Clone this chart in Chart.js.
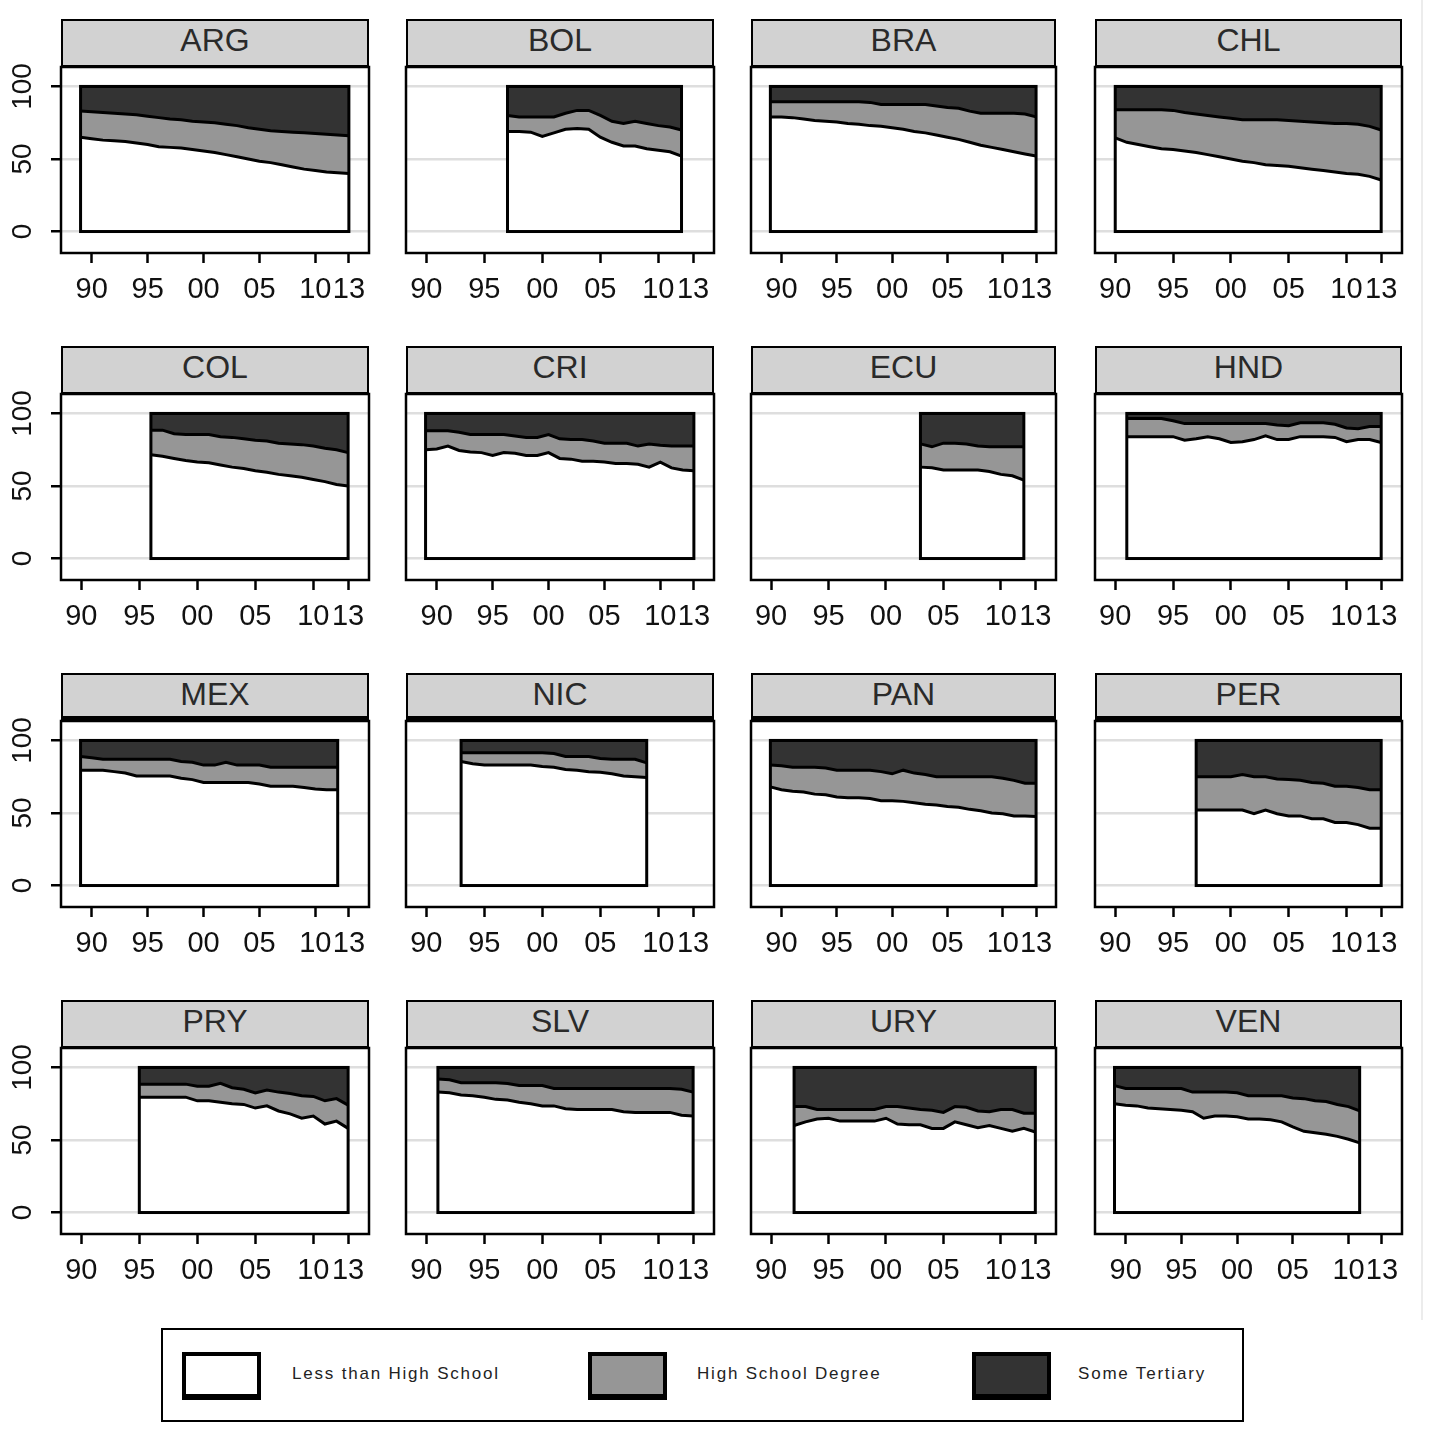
<!DOCTYPE html>
<html>
<head>
<meta charset="utf-8">
<script src="https://cdn.jsdelivr.net/npm/chart.js@4.4.1/dist/chart.umd.min.js"></script>
<style>
  body { margin: 0; background: #fff; width: 1429px; height: 1445px; position: relative; overflow: hidden;
         font-family: 'Liberation Sans', Arial, sans-serif; }
  .strip { position: absolute; box-sizing: border-box; background: #d2d2d2; border: 2px solid #000;
           text-align: center; font-size: 32px; line-height: 39px; color: #2a2a2a; }
  .strip.thick { border-bottom-width: 5px; }
  canvas.panel { position: absolute; }
  #legend { position: absolute; left: 161px; top: 1328px; width: 1083px; height: 94px;
            box-sizing: border-box; border: 2px solid #000; }
  .key { position: absolute; top: 22px; width: 79px; height: 48px; box-sizing: border-box;
         border: 4px solid #000; border-bottom-width: 6px; }
  .keylabel { position: absolute; top: 34px; font-size: 17px; letter-spacing: 1.8px; line-height: 20px; color: #222; white-space: nowrap; }
  #edge { position: absolute; left: 1421px; top: 0; width: 2px; height: 1320px; background: #ececec; }
</style>
</head>
<body>
<div id="edge"></div>
<div id="legend"></div>
<script>
// shares of adult population by education level, percent
const countries = ['ARG', 'BOL', 'BRA', 'CHL', 'COL', 'CRI', 'ECU', 'HND',
                   'MEX', 'NIC', 'PAN', 'PER', 'PRY', 'SLV', 'URY', 'VEN'];

const firstYear = {
    ARG: 1989, BOL: 1997, BRA: 1989, CHL: 1990, COL: 1996, CRI: 1989, ECU: 2003, HND: 1991,
    MEX: 1989, NIC: 1993, PAN: 1989, PER: 1997, PRY: 1995, SLV: 1991, URY: 1992, VEN: 1989
};

const lessHS = {
    ARG: [65,64,63,62.5,62,61,60,58.5,58,57.5,56.5,55.5,54.5,53,51.5,50,48.5,47.5,46,44.5,43,42,41,40.5,40],
    BOL: [69,69,68.5,65.5,68,70.5,71,70.5,65,61.5,59,59,57,56,55,52],
    BRA: [79,79,78.5,77.5,76.5,76,75.5,74.5,74,73,72.5,71.5,70.5,69,68,66.5,65,63.5,61.5,59.5,58,56.5,55,53.5,52],
    CHL: [64.5,61.5,60,58.5,57,56.5,55.5,54.5,53,51.5,50,48.5,47.5,46,45.5,45,44,43,42,41,40,39.5,38,35.5],
    COL: [71.5,70.5,69,67.5,66.5,66,64.5,63,62,60.5,59.5,58,57,56,54.5,53,51,50],
    CRI: [75,75.5,77.5,74.5,73.5,73,71,73,72.5,71,71,73,69,68.5,67,67,66.5,65.5,65.5,65,63,66.5,62.5,61,60.5],
    ECU: [63,62.5,61,61,61,61,60,58,57,54],
    HND: [84,84,84,84,84,81.5,82.5,84,82.5,80,80.5,82,84.5,82,82,84,84,84,83.5,80.5,82,82,80],
    MEX: [79.5,79.5,79.5,78.5,77.5,75.5,75.5,75.5,75.5,74,73,71,71,71,71,71,70,68.5,68.5,68.5,67.5,66.5,66,66],
    NIC: [85.5,84,83,83,83,83,83,82,81.5,80,79.5,78.5,78,77,75.5,75,74.5],
    PAN: [68,66,65,64.5,63,62.5,61,60.5,60.5,60,58.5,58.5,58,57,56,55.5,54.5,54,52.5,51.5,50,49.5,48,48,47.5],
    PER: [52,52,52,52,52,49.5,52,49.5,48,48,46,46,43.5,43.5,42,39.5,39.5],
    PRY: [79.5,79.5,79.5,79.5,79.5,77,77,76,75,74.5,72,73.5,70,68,65,66.5,61,63,58],
    SLV: [83,82.5,81,80.5,79.5,78,77.5,76,75,73.5,73.5,71.5,71,71,71,71,69.5,69,69,69,69,67,66.5],
    URY: [60,62.5,64.5,65,63,63,63,63,65,61,60.5,60.5,58,58,62.5,60.5,58.5,60,58,56,58,55.5],
    VEN: [75,74,73.5,72,71.5,71,70.5,69.5,65,66.5,66.5,66,64.5,64.5,64,62.5,59,56,55,54,52.5,50.5,48]
};

const hsDegree = {
    ARG: [18,18.5,19,19,19,19.5,19.5,20,19.5,19.5,19.5,20,20.5,21,21.5,21.5,22,22,23,24,25,25.5,26,26,26],
    BOL: [11,10,10.5,13.5,11,11,12.5,13,15,14.5,15.5,17,17.5,17,17,18],
    BRA: [10.5,10.5,11,12,13,13.5,14,15,15.5,16,15,16,17,18.5,19.5,20,20.5,21.5,21.5,22,23.5,25,26.5,27.5,27],
    CHL: [19.5,22.5,24,25.5,27,27,26.5,26.5,27,27.5,28,28.5,29.5,31,31.5,31.5,32,32.5,33,33.5,34.5,34.5,34.5,34.5],
    COL: [17,18,17,18,19,19.5,19.5,20.5,20.5,21,21.5,21.5,22,22.5,23,23,24,23],
    CRI: [13,12.5,10.5,12.5,12,12.5,14.5,12.5,12,12.5,12.5,12.5,13.5,13.5,15,14,13,14,14,12.5,16,11.5,15,16.5,17],
    ECU: [16,14.5,18.5,18.5,18,16.5,17,19,20,23],
    HND: [12.5,12.5,12.5,12.5,11,11.5,10.5,9,10.5,13,12.5,11,8.5,10,9.5,9.5,9.5,9.5,9,9.5,7.5,9,11],
    MEX: [9.5,8.5,7.5,8.5,9.5,11.5,11.5,11.5,11.5,11.5,12,12,12,14,12,12,13,13,13,13,14,15,15.5,15.5],
    NIC: [6,7.5,8.5,8.5,8.5,8.5,8.5,9.5,9.5,9,9.5,10.5,9.5,10,11.5,12,10],
    PAN: [15,16.5,16.5,17,18.5,18.5,18.5,19,19,19.5,20,18.5,21.5,20.5,20.5,19.5,20.5,21,22.5,23.5,25,24.5,24.5,22.5,23],
    PER: [23,23,23,23,24.5,25.5,23,24,25,24.5,25,24.5,25,25,25.5,26.5,26.5],
    PRY: [9,9,9,9,9,10,10,13,11,10.5,10.5,11,13,14,15.5,13.5,16,15.5,16],
    SLV: [9,9,8.5,9,10,11.5,11.5,11.5,12.5,14,12,14,14.5,14.5,14.5,14.5,16,16.5,16.5,16.5,16.5,18,16.5],
    URY: [13,10.5,6.5,6,8,8,8,8,8,12,11.5,10.5,12.5,11,10.5,12,11.5,9.5,13,15,10.5,13],
    VEN: [12.5,11.5,12,13.5,14,14.5,15,13.5,18,16.5,16.5,16.5,16,16,16.5,18,20,22.5,22,22.5,22,22.5,22]
};

const tertiary = {
    ARG: [17,17.5,18,18.5,19,19.5,20.5,21.5,22.5,23,24,24.5,25,26,27,28.5,29.5,30.5,31,31.5,32,32.5,33,33.5,34],
    BOL: [20,21,21,21,21,18.5,16.5,16.5,20,24,25.5,24,25.5,27,28,30],
    BRA: [10.5,10.5,10.5,10.5,10.5,10.5,10.5,10.5,10.5,11,12.5,12.5,12.5,12.5,12.5,13.5,14.5,15,17,18.5,18.5,18.5,18.5,19,21],
    CHL: [16,16,16,16,16,16.5,18,19,20,21,22,23,23,23,23,23.5,24,24.5,25,25.5,25.5,26,27.5,30],
    COL: [11.5,11.5,14,14.5,14.5,14.5,16,16.5,17.5,18.5,19,20.5,21,21.5,22.5,24,25,27],
    CRI: [12,12,12,13,14.5,14.5,14.5,14.5,15.5,16.5,16.5,14.5,17.5,18,18,19,20.5,20.5,20.5,22.5,21,22,22.5,22.5,22.5],
    ECU: [21,23,20.5,20.5,21,22.5,23,23,23,23],
    HND: [3.5,3.5,3.5,3.5,5,7,7,7,7,7,7,7,7,8,8.5,6.5,6.5,6.5,7.5,10,10.5,9,9],
    MEX: [11,12,13,13,13,13,13,13,13,14.5,15,17,17,15,17,17,17,18.5,18.5,18.5,18.5,18.5,18.5,18.5],
    NIC: [8.5,8.5,8.5,8.5,8.5,8.5,8.5,8.5,9,11,11,11,12.5,13,13,13,15.5],
    PAN: [17,17.5,18.5,18.5,18.5,19,20.5,20.5,20.5,20.5,21.5,23,20.5,22.5,23.5,25,25,25,25,25,25,26,27.5,29.5,29.5],
    PER: [25,25,25,25,23.5,25,25,26.5,27,27.5,29,29.5,31.5,31.5,32.5,34,34],
    PRY: [11.5,11.5,11.5,11.5,11.5,13,13,11,14,15,17.5,15.5,17,18,19.5,20,23,21.5,26],
    SLV: [8,8.5,10.5,10.5,10.5,10.5,11,12.5,12.5,12.5,14.5,14.5,14.5,14.5,14.5,14.5,14.5,14.5,14.5,14.5,14.5,15,17],
    URY: [27,27,29,29,29,29,29,29,27,27,28,29,29.5,31,27,27.5,30,30.5,29,29,31.5,31.5],
    VEN: [12.5,14.5,14.5,14.5,14.5,14.5,14.5,17,17,17,17,17.5,19.5,19.5,19.5,19.5,21,21.5,23,23.5,25.5,27,30]
};

const seriesNames = ['Less than High School', 'High School Degree', 'Some Tertiary'];
const yearTicks = [1990, 1995, 2000, 2005, 2010, 2013];
const valueTicks = [0, 50, 100];

// look
const fills = ['#ffffff', '#969696', '#333333'];
const colLeft = [61, 406, 751, 1095];
const colWidth = [308, 308, 305, 307];
const rowTop = [19, 346, 673, 1000];
const STRIP_H = 48, PLOT_H = 186, AXIS_W = 61, AXIS_H = 62, PAD_R = 14, PAD_T = 3;
const LINE_W = 3;

Chart.defaults.font.family = "'Liberation Sans', Arial, sans-serif";

// box round the plot region and round the span of the data
const frame = {
    id: 'frame',
    afterDatasetsDraw(chart) {
        const {ctx, chartArea: a, scales: {x, y}} = chart;
        const d = chart.data.datasets[0].data;
        const x0 = x.getPixelForValue(d[0].x);
        const x1 = x.getPixelForValue(d[d.length - 1].x);
        const top = y.getPixelForValue(100);
        const bottom = y.getPixelForValue(0);
        ctx.save();
        ctx.strokeStyle = '#000';
        ctx.lineWidth = LINE_W;
        ctx.strokeRect(x0, top, x1 - x0, bottom - top);
        ctx.lineWidth = 2.5;
        ctx.strokeRect(a.left, a.top, a.right - a.left, a.bottom - a.top);
        ctx.restore();
    }
};

function makePanel(code, i) {
    const col = i % 4;
    const row = Math.floor(i / 4);

    const strip = document.createElement('div');
    strip.className = 'strip' + (row === 2 ? ' thick' : '');
    strip.style.left = colLeft[col] + 'px';
    strip.style.top = rowTop[row] + 'px';
    strip.style.width = colWidth[col] + 'px';
    strip.style.height = STRIP_H + 'px';
    strip.textContent = code;
    document.body.appendChild(strip);

    const cv = document.createElement('canvas');
    cv.className = 'panel';
    cv.width = AXIS_W + colWidth[col] + PAD_R;
    cv.height = PAD_T + PLOT_H + AXIS_H;
    cv.style.left = (colLeft[col] - AXIS_W) + 'px';
    cv.style.top = (rowTop[row] + STRIP_H - PAD_T) + 'px';
    document.body.appendChild(cv);

    const start = firstYear[code];
    const points = arr => arr.map((v, k) => ({x: start + k, y: v}));
    const series = [lessHS[code], hsDegree[code], tertiary[code]];

    new Chart(cv, {
        type: 'line',
        data: {
            datasets: series.map((s, k) => ({
                label: seriesNames[k],
                data: points(s),
                fill: k === 0 ? 'origin' : '-1',
                backgroundColor: fills[k],
                borderColor: '#000',
                borderWidth: LINE_W,
                pointRadius: 0,
                tension: 0
            }))
        },
        options: {
            animation: false,
            responsive: false,
            devicePixelRatio: 1,
            layout: {padding: {top: PAD_T, right: PAD_R, left: 0, bottom: 0}},
            plugins: {legend: {display: false}, tooltip: {enabled: false}},
            scales: {
                x: {
                    type: 'linear',
                    min: Math.min(start, 1990) - 1.75,
                    max: 2014.8,
                    afterBuildTicks: ax => { ax.ticks = yearTicks.map(v => ({value: v})); },
                    afterFit: ax => { ax.height = AXIS_H; ax.paddingLeft = 0; ax.paddingRight = 0; },
                    border: {display: false},
                    grid: {drawOnChartArea: false, tickLength: 10, tickColor: '#000', tickWidth: 2.5},
                    ticks: {
                        autoSkip: false, maxRotation: 0, minRotation: 0, padding: 10,
                        color: '#111', font: {size: 29},
                        callback: v => String(v).slice(2)
                    }
                },
                y: {
                    stacked: true,
                    min: -14.8,
                    max: 113.4,
                    afterBuildTicks: ax => { ax.ticks = valueTicks.map(v => ({value: v})); },
                    afterFit: ax => { ax.width = AXIS_W; ax.paddingTop = 0; ax.paddingBottom = 0; },
                    border: {display: false},
                    grid: {
                        color: '#dedede', lineWidth: 2.5,
                        drawTicks: col === 0, tickLength: 10, tickColor: '#000', tickWidth: 2.5
                    },
                    ticks: {
                        display: col === 0, minRotation: 90, maxRotation: 90, crossAlign: 'center',
                        padding: 4, color: '#111', font: {size: 28}
                    }
                }
            }
        },
        plugins: [frame]
    });
}

countries.forEach(makePanel);

// legend
const legend = document.getElementById('legend');
const keyLeft = [19, 425, 809];
const labelLeft = [129, 534, 915];
seriesNames.forEach((name, k) => {
    const key = document.createElement('div');
    key.className = 'key';
    key.style.left = keyLeft[k] + 'px';
    key.style.background = fills[k];
    legend.appendChild(key);
    const lab = document.createElement('div');
    lab.className = 'keylabel';
    lab.style.left = labelLeft[k] + 'px';
    lab.textContent = name;
    legend.appendChild(lab);
});
</script>
</body>
</html>
